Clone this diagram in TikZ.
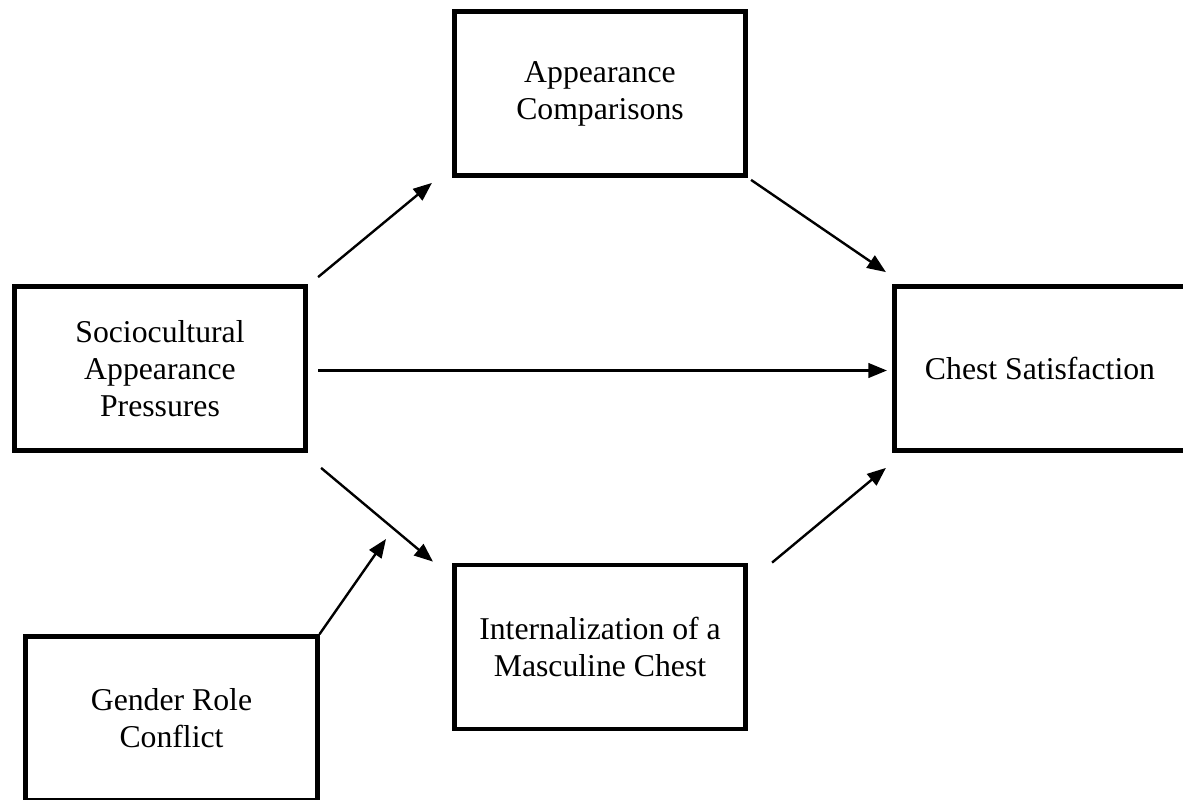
\documentclass[tikz,border=0pt]{standalone}
\usepackage{fontspec}
\setmainfont{Liberation Serif}
\usepackage{tikz}
\usetikzlibrary{arrows.meta,calc}
\tikzset{
  varbox/.style = {draw=black, line width=3.6pt, rectangle, align=center,
    minimum width=218.5pt, minimum height=123pt, inner sep=0pt,
    font=\fontsize{23.8}{27.75}\selectfont},% boite de variable
  link/.style = {->, line width=1.8pt},% fleche entre variables
}
\begin{document}
\begin{tikzpicture}[x=0.75pt,y=-0.75pt,>={Triangle[length=14pt,width=11pt]}]
\useasboundingbox (0,0) rectangle (1183,800);
\node [varbox] (ac)  at (600,93.5)  {Appearance\\Comparisons};
\node [varbox] (sap) at (160,368.5) {Sociocultural\\Appearance\\Pressures};
\node [varbox] (cs)  at (1040,368.5)  {Chest Satisfaction};
\node [varbox] (imc) at (600,647)   {Internalization of a\\Masculine Chest};
\node [varbox] (grc) at (171.5,718.5) {Gender Role\\Conflict};
\coordinate (mod) at (386,539); % point vise par le moderateur
% chemins
\draw [link] ($(sap.north east)+(10,-7)$) -- ($(ac.south west)+(-20,5)$);
\draw [link] ($(ac.south east)+(3,2)$) -- ($(cs.north west)+(-6,-12)$);
\draw [link] ($(sap.east)+(10,2)$) -- ($(cs.west)+(-5,2)$);
\draw [link] ($(sap.south east)+(13,15)$) -- ($(imc.north west)+(-19,-1)$);
\draw [link] ($(imc.north east)+(24,0)$) -- ($(cs.south west)+(-6,15)$);
\draw [link] (grc.north east) -- (mod);
\end{tikzpicture}
\end{document}
